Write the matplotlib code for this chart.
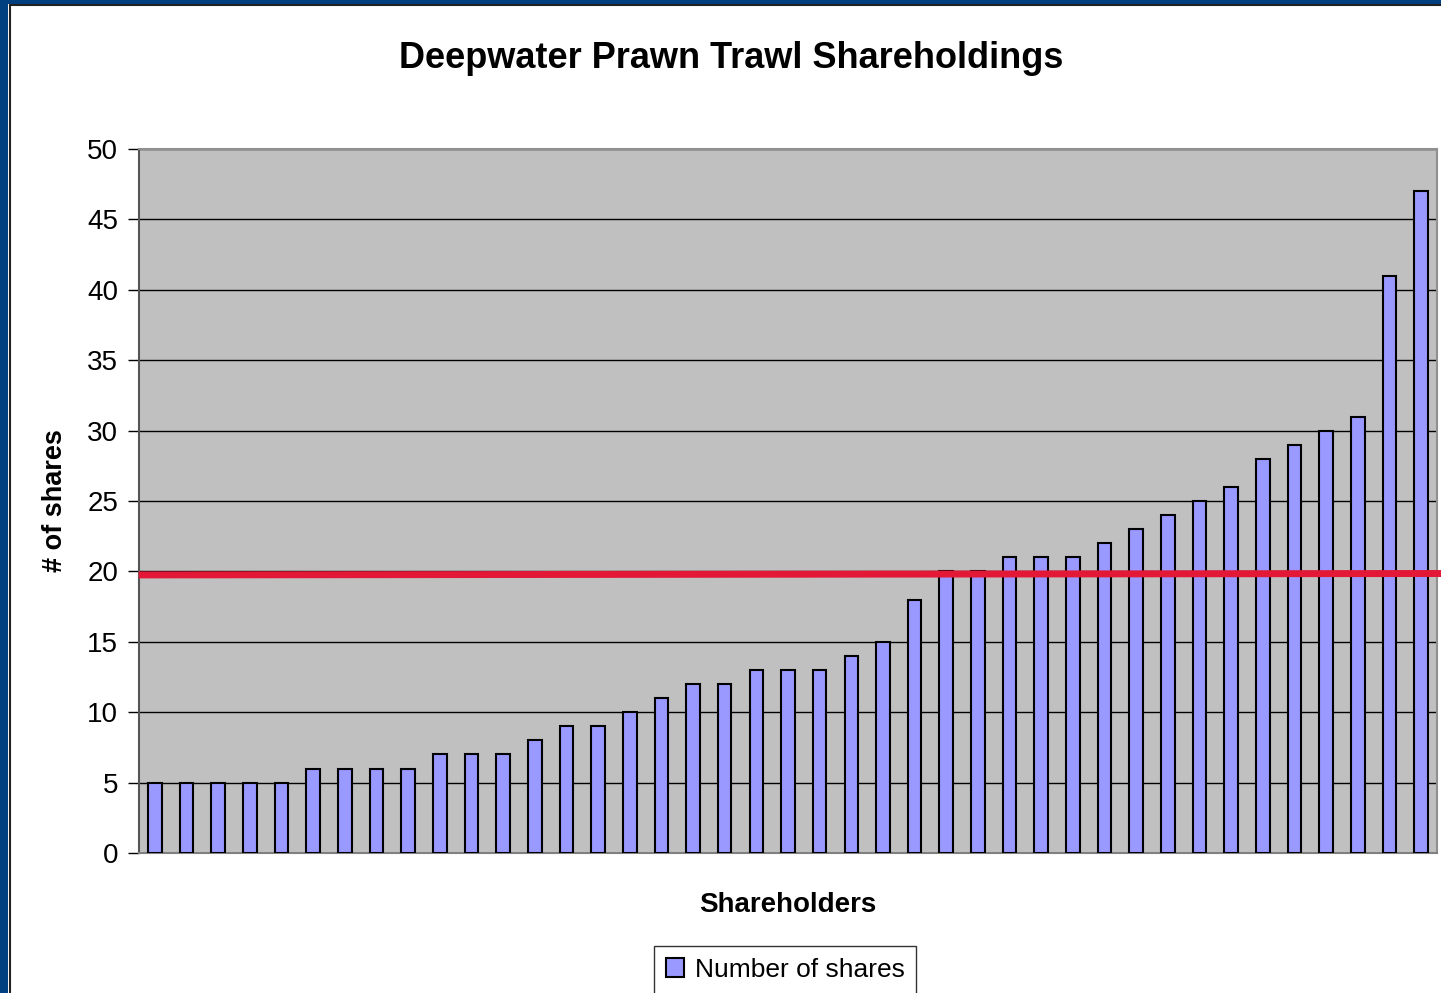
import numpy as np
import matplotlib.pyplot as plt
from matplotlib.patches import Rectangle
from matplotlib.lines import Line2D

plt.rcParams['font.family'] = ['Liberation Sans', 'DejaVu Sans']

# Data
shares = [5, 5, 5, 5, 5, 6, 6, 6, 6, 7, 7, 7, 8, 9, 9, 10, 11, 12, 12, 13,
          13, 13, 14, 15, 18, 20, 20, 21, 21, 21, 22, 23, 24, 25, 26, 28, 29,
          30, 31, 41, 47]
threshold_left, threshold_right = 19.75, 19.85
y_ticks = [0, 5, 10, 15, 20, 25, 30, 35, 40, 45, 50]

fig = plt.figure(figsize=(14.41, 9.93), dpi=100)

# Blue slide frame
fig.patches.append(Rectangle((0, 0), 8 / 1441, 1, transform=fig.transFigure,
                             facecolor='#003F80', edgecolor='none', zorder=0))
fig.patches.append(Rectangle((0, 1 - 4 / 993), 1, 4 / 993, transform=fig.transFigure,
                             facecolor='#003F80', edgecolor='none', zorder=0))
fig.lines.append(Line2D([9.5 / 1441, 9.5 / 1441], [0, 1 - 5 / 993], transform=fig.transFigure,
                        color='#222222', lw=1.5))
fig.lines.append(Line2D([9.5 / 1441, 1], [1 - 5 / 993, 1 - 5 / 993], transform=fig.transFigure,
                        color='#222222', lw=1.5))

ax = fig.add_axes([139 / 1441, 140 / 993, 1298 / 1441, 704 / 993])
ax.set_facecolor('#C0C0C0')

x = np.arange(len(shares))
ax.bar(x, shares, width=0.43, color='#9999FF', edgecolor='black', linewidth=1.5,
       label='Number of shares', zorder=3)

ax.set_xlim(-0.5, len(shares) - 0.5)
ax.set_ylim(0, 50)
ax.set_yticks(y_ticks)
ax.set_xticks([])
ax.yaxis.grid(True, color='black', linewidth=1, zorder=1)
ax.set_axisbelow(True)
ax.tick_params(axis='y', labelsize=20, length=8, width=1, direction='out', pad=7)

for side in ['top', 'right']:
    ax.spines[side].set_color('#909090')
    ax.spines[side].set_linewidth(1.5)
ax.spines['left'].set_color('#555555')
ax.spines['left'].set_linewidth(1.5)
ax.spines['bottom'].set_color('#808080')
ax.spines['bottom'].set_linewidth(1.5)

# Red reference line, extends to the right edge of the slide
ax.plot([-0.4, len(shares) - 0.38], [threshold_left, threshold_right], color='#E31837',
        linewidth=5, clip_on=False, zorder=4)

fig.text(0.5075, 1 - 58 / 993, 'Deepwater Prawn Trawl Shareholdings', fontsize=26,
         fontweight='bold', ha='center', va='center')
ax.set_ylabel('# of shares', fontsize=19.5, fontweight='bold', labelpad=14)
ax.set_xlabel('Shareholders', fontsize=20, fontweight='bold', labelpad=28)

leg = ax.legend(loc='upper center', bbox_to_anchor=(785 / 1441, 47 / 993),
                bbox_transform=fig.transFigure, fontsize=19, frameon=True,
                fancybox=False, edgecolor='black', handlelength=0.7,
                handleheight=0.7, handletextpad=0.4, borderpad=0.45,
                borderaxespad=0)
leg.get_frame().set_linewidth(1)

fig.savefig('out.png', dpi=100)
